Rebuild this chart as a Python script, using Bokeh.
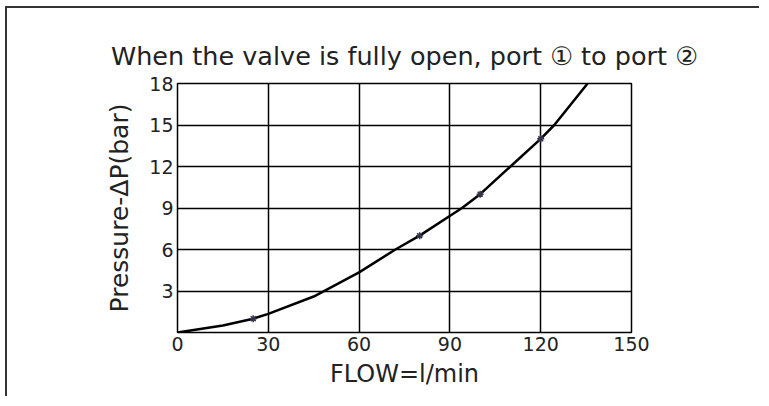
from bokeh.plotting import figure
from bokeh.models import FixedTicker, Title
from bokeh.embed import file_html
from bokeh.resources import INLINE

flow = [0, 15, 25, 30, 45, 60, 72, 80, 94, 100, 110, 120, 124.5, 135.5]
pressure = [0, 0.5, 1.0, 1.35, 2.6, 4.35, 6, 7, 9, 10, 12, 14, 15, 18]
marker_flow = [25, 80, 100, 120]
marker_pressure = [1, 7, 10, 14]
x_ticks = [0, 30, 60, 90, 120, 150]
y_ticks = [3, 6, 9, 12, 15, 18]
title_text = "When the valve is fully open, port \u2460 to port \u2461"
x_label = "FLOW=l/min"
y_label = "Pressure-\u0394P(bar)"

FONT = "DejaVu Sans"
TXT = "#222222"

# the page itself has no margin; shift the canvas by the outer picture frame
p = figure(width=754, height=390, output_backend="svg", toolbar_location=None,
           x_range=(0, 150), y_range=(0, 18),
           min_border_left=170, min_border_right=130, min_border_top=75, min_border_bottom=66,
           styles={"margin-left": "5px", "margin-top": "6px",
                   "border-left": "2px solid #333333", "border-top": "2px solid #333333"})

p.title = Title(text=title_text, align="center", text_font=FONT, text_font_size="25.5px",
                text_font_style="normal", text_color=TXT, standoff=25)

p.line(flow, pressure, line_color="black", line_width=2.5)
p.scatter(marker_flow, marker_pressure, marker="asterisk", size=7,
          line_color="#33334a", line_width=1.5)

p.outline_line_color = "black"
p.outline_line_width = 1.5
p.outline_line_alpha = 1

for ax in (p.xaxis[0], p.yaxis[0]):
    ax.axis_line_color = None
    ax.major_tick_line_color = None
    ax.minor_tick_line_color = None
    ax.major_tick_out = 0
    ax.major_tick_in = 0
    ax.minor_tick_out = 0
    ax.minor_tick_in = 0
    ax.major_label_text_font = FONT
    ax.major_label_text_font_size = "19px"
    ax.major_label_text_color = TXT
    ax.axis_label_text_font = FONT
    ax.axis_label_text_font_size = "24px"
    ax.axis_label_text_font_style = "normal"
    ax.axis_label_text_color = TXT
    ax.major_label_standoff = 4

p.yaxis[0].axis_label_text_font_size = "25px"
p.xaxis[0].ticker = FixedTicker(ticks=x_ticks)
p.yaxis[0].ticker = FixedTicker(ticks=y_ticks)
p.xaxis[0].axis_label = x_label
p.yaxis[0].axis_label = y_label
p.xaxis[0].axis_label_standoff = 6
p.yaxis[0].axis_label_standoff = 12

p.xgrid[0].ticker = FixedTicker(ticks=x_ticks)
p.ygrid[0].ticker = FixedTicker(ticks=y_ticks)
for g in (p.xgrid[0], p.ygrid[0]):
    g.grid_line_color = "black"
    g.grid_line_width = 1.5
    g.grid_line_alpha = 1

open("out.html", "w").write(file_html(p, INLINE))
